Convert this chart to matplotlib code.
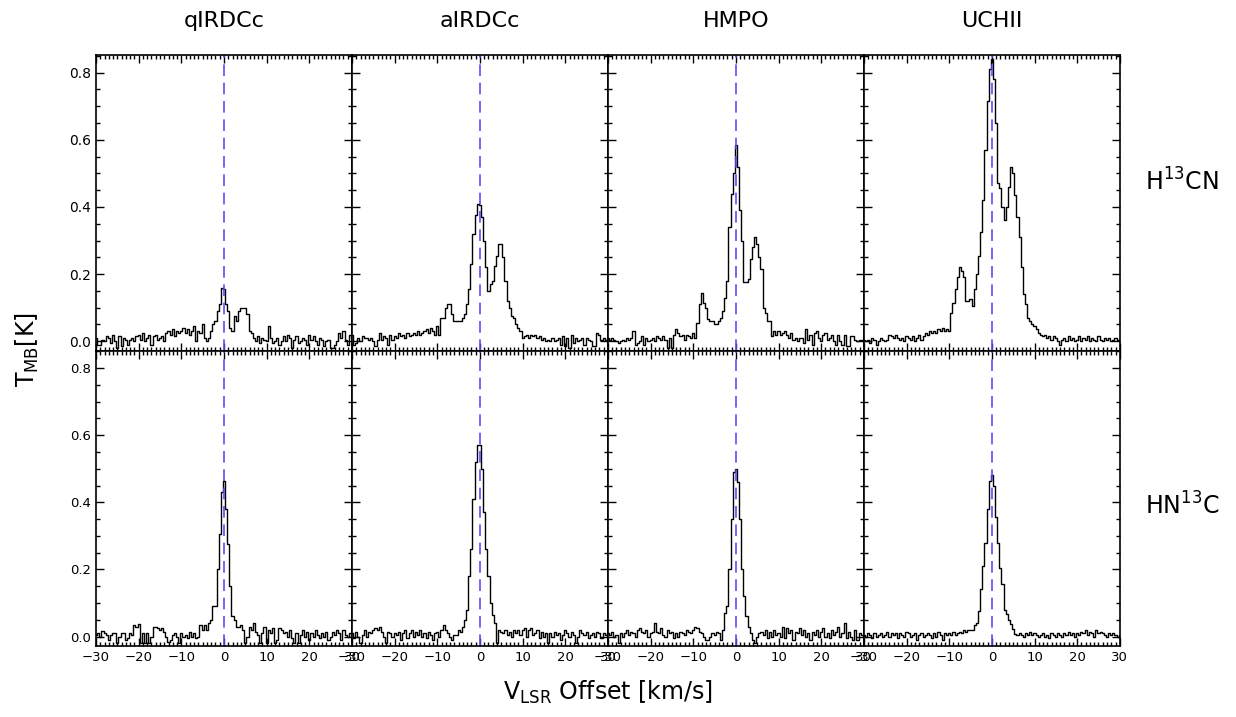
import numpy as np
import matplotlib
matplotlib.use("Agg")
import matplotlib.pyplot as plt
from matplotlib.ticker import MultipleLocator

# Velocity channels (km/s), 0.5 km/s wide, centred on -30 ... 30
VEL = np.arange(-30.0, 30.01, 0.5)

SOURCES = ["qIRDCc", "aIRDCc", "HMPO", "UCHII"]
LINES = [r"H$^{13}$CN", r"HN$^{13}$C"]

# H13CN stacked spectra (T_MB in K), one value per channel
H13CN_QIRDCC = [
    0.01, -0.01, -0.01, 0.005, 0.0, 0.015, 0.01, -0.005, 0.02, 0.0,
    -0.02, 0.015, -0.015, 0.01, 0.005, -0.01, 0.005, 0.01, 0.0, 0.015,
    0.02, 0.005, 0.025, 0.0, 0.01, 0.02, -0.01, 0.015, 0.02, 0.005,
    0.01, 0.015, 0.0, 0.025, 0.03, 0.02, 0.035, 0.015, 0.03, 0.025,
    0.03, 0.04, 0.025, 0.035, 0.02, 0.03, 0.045, 0.0, 0.03, 0.025,
    0.05, 0.01, 0.0, 0.01, 0.03, 0.05, 0.06, 0.09, 0.11, 0.16,
    0.155, 0.11, 0.09, 0.04, 0.03, 0.075, 0.06, 0.09, 0.10, 0.10,
    0.10, 0.08, 0.03, 0.025, 0.01, 0.0, 0.015, -0.005, 0.01, 0.005,
    0.0, 0.045, 0.01, -0.005, 0.0, 0.01, -0.01, 0.0, 0.015, 0.0,
    0.02, 0.01, -0.02, 0.005, 0.015, -0.005, 0.0, 0.01, 0.005, -0.01,
    0.02, 0.005, 0.015, 0.0, -0.01, 0.01, 0.005, -0.015, 0.0, 0.005,
    -0.02, -0.02, -0.01, 0.0, 0.025, 0.01, 0.03, 0.005, -0.01, 0.02,
    0.01,
]
H13CN_AIRDCC = [
    0.02, -0.01, -0.005, 0.01, 0.0, 0.015, 0.01, 0.01, 0.005, 0.01,
    0.0, -0.015, 0.005, 0.025, 0.005, 0.015, 0.01, -0.01, 0.02, 0.005,
    0.015, 0.01, 0.025, 0.015, 0.02, 0.01, 0.025, 0.015, 0.02, 0.025,
    0.02, 0.03, 0.02, 0.025, 0.03, 0.035, 0.025, 0.04, 0.03, 0.02,
    0.045, 0.02, 0.07, 0.07, 0.10, 0.11, 0.11, 0.08, 0.06, 0.06,
    0.06, 0.06, 0.07, 0.08, 0.11, 0.155, 0.23, 0.32, 0.375, 0.41,
    0.405, 0.37, 0.30, 0.22, 0.15, 0.17, 0.18, 0.225, 0.255, 0.29,
    0.29, 0.25, 0.18, 0.12, 0.10, 0.075, 0.07, 0.05, 0.04, 0.03,
    0.01, 0.015, 0.02, 0.01, 0.02, 0.015, 0.02, 0.01, 0.015, 0.005,
    0.01, 0.0, 0.005, 0.0, 0.01, 0.0, 0.005, 0.01, -0.01, 0.015,
    -0.015, 0.01, -0.02, 0.02, -0.005, 0.01, 0.0, 0.005, 0.01, -0.01,
    0.01, 0.005, 0.0, -0.015, -0.015, 0.025, 0.02, 0.005, 0.01, 0.005,
    0.005,
]
H13CN_HMPO = [
    0.01, 0.005, 0.01, 0.005, 0.0, -0.005, 0.0, 0.005, 0.0, 0.01,
    0.005, 0.01, 0.03, -0.01, -0.005, 0.0, 0.015, -0.01, 0.01, 0.0,
    0.005, 0.01, 0.0, 0.015, 0.01, 0.005, 0.015, 0.005, -0.02, 0.01,
    -0.02, 0.02, 0.035, 0.025, 0.015, 0.02, 0.005, 0.02, 0.015, 0.01,
    0.025, 0.01, 0.055, 0.11, 0.145, 0.115, 0.10, 0.065, 0.06, 0.06,
    0.05, 0.05, 0.06, 0.07, 0.09, 0.13, 0.18, 0.34, 0.44, 0.50,
    0.585, 0.52, 0.39, 0.30, 0.175, 0.175, 0.185, 0.245, 0.28, 0.31,
    0.29, 0.25, 0.215, 0.10, 0.085, 0.06, 0.06, 0.015, 0.03, 0.02,
    0.03, 0.02, 0.025, 0.03, 0.02, 0.01, 0.025, 0.005, 0.01, 0.0,
    0.01, 0.01, -0.005, 0.035, 0.005, 0.02, -0.01, 0.025, 0.03, 0.01,
    0.0, 0.02, 0.025, 0.005, 0.01, 0.02, 0.0, -0.01, 0.02, 0.0,
    -0.01, 0.02, -0.015, -0.015, 0.015, 0.015, 0.005, 0.0, 0.005, 0.005,
    0.005,
]
H13CN_UCHII = [
    0.005, 0.0, 0.005, -0.005, 0.01, 0.005, -0.01, 0.0, 0.01, 0.005,
    0.0, 0.005, 0.02, 0.015, 0.01, 0.02, 0.01, 0.005, 0.01, 0.0,
    0.015, 0.01, 0.005, 0.015, 0.0, 0.01, 0.02, 0.005, 0.015, 0.025,
    0.02, 0.03, 0.025, 0.03, 0.025, 0.035, 0.03, 0.04, 0.03, 0.035,
    0.03, 0.085, 0.115, 0.155, 0.19, 0.22, 0.21, 0.19, 0.12, 0.12,
    0.125, 0.105, 0.155, 0.20, 0.255, 0.325, 0.42, 0.57, 0.715, 0.81,
    0.84, 0.78, 0.65, 0.47, 0.455, 0.40, 0.36, 0.40, 0.46, 0.52,
    0.50, 0.435, 0.37, 0.31, 0.22, 0.14, 0.11, 0.07, 0.06, 0.05,
    0.045, 0.035, 0.025, 0.02, 0.015, 0.02, 0.01, 0.015, 0.005, 0.015,
    0.01, 0.0, -0.01, 0.005, 0.01, 0.0, 0.015, 0.005, 0.01, 0.0,
    0.005, 0.015, 0.0, 0.01, 0.005, 0.015, 0.0, 0.01, 0.005, 0.0,
    0.015, 0.005, 0.0, 0.01, 0.005, 0.01, 0.0, 0.005, 0.01, 0.005,
    0.005,
]

# HN13C stacked spectra (T_MB in K)
HN13C_QIRDCC = [
    0.005, 0.01, 0.0, 0.017, 0.01, 0.005, -0.01, 0.005, 0.01, 0.01,
    -0.02, 0.0, 0.01, 0.01, -0.01, -0.005, 0.01, 0.005, 0.035, 0.03,
    0.037, -0.02, 0.01, -0.02, 0.01, -0.02, 0.0, 0.03, 0.03, 0.025,
    0.02, 0.025, 0.015, 0.0, -0.015, -0.01, 0.005, 0.01, 0.0, -0.02,
    0.01, 0.0, 0.005, -0.005, 0.015, 0.0, 0.01, -0.005, 0.0, 0.035,
    0.02, 0.035, 0.02, 0.04, 0.05, 0.09, 0.09, 0.20, 0.305, 0.43,
    0.465, 0.38, 0.275, 0.15, 0.06, 0.05, 0.03, 0.03, 0.035, 0.02,
    -0.02, 0.0, 0.03, 0.02, 0.04, 0.015, 0.005, -0.02, 0.01, 0.03,
    -0.02, 0.02, 0.01, 0.025, -0.02, -0.01, 0.025, 0.02, 0.01, 0.015,
    0.0, 0.02, -0.005, -0.02, 0.01, -0.02, 0.005, 0.02, 0.0, 0.015,
    -0.01, 0.01, 0.0, 0.02, 0.005, -0.005, 0.01, 0.0, 0.015, -0.01,
    0.0, 0.015, 0.005, 0.02, 0.01, -0.01, 0.02, 0.005, 0.0, 0.01,
    0.0,
]
HN13C_AIRDCC = [
    0.01, -0.005, 0.015, 0.0, -0.02, 0.005, 0.02, 0.0, 0.015, 0.01,
    0.02, 0.025, 0.02, 0.03, 0.015, 0.0, -0.02, 0.015, 0.01, 0.0,
    0.01, 0.005, 0.015, -0.01, 0.01, 0.02, -0.005, 0.01, 0.02, 0.0,
    0.015, 0.005, 0.02, 0.0, 0.01, -0.005, 0.015, 0.005, -0.01, 0.01,
    0.015, 0.0, 0.02, 0.035, 0.02, 0.01, 0.0, -0.01, 0.005, 0.005,
    0.02, 0.015, 0.03, 0.05, 0.08, 0.18, 0.26, 0.41, 0.52, 0.57,
    0.57, 0.50, 0.37, 0.26, 0.18, 0.10, 0.065, 0.04, -0.02, 0.02,
    0.015, 0.01, 0.02, 0.005, 0.015, 0.0, 0.02, 0.01, 0.02, 0.005,
    0.02, 0.025, 0.0, 0.02, 0.025, 0.005, 0.01, 0.02, -0.005, 0.015,
    0.0, 0.01, -0.02, 0.01, 0.0, 0.015, 0.005, 0.01, -0.01, 0.005,
    0.02, 0.01, 0.0, 0.015, 0.005, -0.02, 0.0, 0.02, 0.01, 0.005,
    0.015, -0.005, 0.005, 0.01, 0.0, 0.015, 0.01, -0.005, 0.01, 0.005,
    0.01,
]
HN13C_HMPO = [
    0.01, 0.005, 0.015, 0.0, 0.005, -0.02, 0.01, 0.0, 0.01, 0.02,
    0.005, 0.015, 0.01, 0.0, 0.02, 0.025, 0.015, 0.01, 0.02, 0.0,
    0.01, 0.015, 0.04, 0.015, 0.01, 0.025, 0.005, 0.0, 0.02, 0.01,
    0.015, -0.005, 0.01, 0.0, 0.015, 0.01, 0.005, 0.02, 0.015, 0.01,
    0.02, 0.03, 0.025, 0.015, 0.01, 0.0, -0.01, -0.01, 0.0, 0.01,
    0.005, 0.015, 0.01, -0.01, 0.02, 0.07, 0.09, 0.20, 0.35, 0.49,
    0.50, 0.46, 0.35, 0.20, 0.12, 0.06, 0.03, 0.01, -0.01, -0.02,
    0.0, 0.01, 0.015, 0.005, 0.02, -0.005, 0.015, 0.0, 0.02, 0.005,
    0.01, 0.0, 0.03, -0.005, 0.025, 0.01, 0.02, -0.01, 0.015, 0.01,
    0.025, 0.005, 0.02, 0.0, 0.01, -0.01, 0.015, 0.005, 0.02, 0.0,
    0.015, 0.025, 0.0, 0.01, -0.005, 0.02, 0.005, 0.015, 0.03, 0.0,
    0.01, 0.04, -0.005, 0.015, 0.0, -0.01, 0.02, -0.01, 0.01, 0.005,
    0.005,
]
HN13C_UCHII = [
    0.005, 0.0, 0.01, 0.005, -0.005, 0.01, 0.0, 0.005, 0.01, 0.0,
    0.005, 0.015, 0.0, 0.01, 0.005, 0.01, -0.005, 0.01, 0.005, 0.0,
    0.015, 0.01, 0.0, 0.005, 0.01, -0.01, 0.005, 0.01, 0.0, 0.005,
    0.01, 0.005, -0.005, 0.01, 0.0, 0.015, 0.005, -0.01, 0.01, 0.005,
    0.01, 0.005, 0.015, 0.005, 0.01, 0.015, 0.01, 0.02, 0.015, 0.02,
    0.02, 0.02, 0.034, 0.04, 0.077, 0.143, 0.21, 0.28, 0.38, 0.464,
    0.48, 0.45, 0.355, 0.28, 0.205, 0.156, 0.08, 0.067, 0.05, 0.037,
    0.022, 0.007, 0.005, 0.01, 0.005, 0.0, 0.01, 0.005, 0.015, 0.005,
    0.01, 0.005, 0.0, 0.005, 0.01, 0.0, 0.005, -0.005, 0.01, 0.005,
    0.0, 0.01, 0.005, 0.0, 0.01, 0.005, 0.015, 0.005, 0.01, 0.0,
    0.01, 0.005, 0.015, 0.01, 0.02, 0.005, 0.015, 0.01, 0.0, 0.02,
    0.01, 0.015, 0.01, 0.005, 0.0, 0.01, 0.005, 0.01, 0.005, 0.0,
    0.005,
]

SPECTRA = [
    [H13CN_QIRDCC, H13CN_AIRDCC, H13CN_HMPO, H13CN_UCHII],
    [HN13C_QIRDCC, HN13C_AIRDCC, HN13C_HMPO, HN13C_UCHII],
]

fig, axes = plt.subplots(2, 4, figsize=(12.36, 7.17), dpi=100)
fig.subplots_adjust(left=0.0777, right=0.906, top=0.923, bottom=0.099,
                    wspace=0, hspace=0)

for row in range(2):
    for col in range(4):
        ax = axes[row, col]
        ax.step(VEL, SPECTRA[row][col], where="mid", color="k", lw=1.0)
        ax.axvline(0, color="#5a4cff", lw=1.2, ls=(0, (7, 4)))

        ax.set_xlim(-30, 30)
        ax.set_ylim(-0.028, 0.852)
        ax.xaxis.set_major_locator(MultipleLocator(10))
        ax.xaxis.set_minor_locator(MultipleLocator(1))
        ax.yaxis.set_major_locator(MultipleLocator(0.2))
        ax.yaxis.set_minor_locator(MultipleLocator(0.05))
        ax.tick_params(which="both", direction="in", top=True, right=True,
                       labelsize=10, width=1.0)
        ax.tick_params(which="major", length=6)
        ax.tick_params(which="minor", length=3)
        ax.yaxis.set_major_formatter(plt.FormatStrFormatter("%.1f"))
        for sp in ax.spines.values():
            sp.set_linewidth(1.2)

        if row == 0:
            ax.tick_params(labelbottom=False)
            ax.set_title(SOURCES[col], fontsize=16, pad=20)
        else:
            # the edge labels of neighbouring panels share one spot, as in the original
            ax.tick_params(labelsize=9.5)
        if col > 0:
            ax.tick_params(labelleft=False)

    axes[row, 3].text(1.1, 0.57 if row == 0 else 0.475, LINES[row],
                      transform=axes[row, 3].transAxes, fontsize=17,
                      ha="left", va="center")

fig.text(0.022, 0.512, r"T$_{\rm MB}$[K]", rotation=90, fontsize=17,
         ha="center", va="center")
fig.text(0.492, 0.035, r"V$_{\rm LSR}$ Offset [km/s]", fontsize=17,
         ha="center", va="center")

fig.savefig("out.png", dpi=100)
